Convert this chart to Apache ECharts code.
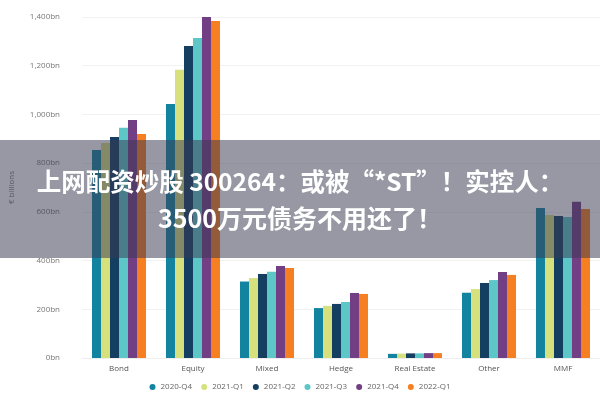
<!DOCTYPE html>
<html>
<head>
<meta charset="utf-8">
<script src="https://cdn.jsdelivr.net/npm/echarts@6/dist/echarts.min.js"></script>
<style>
html,body{margin:0;padding:0;background:#fff;}
#main{width:600px;height:400px;}
</style>
</head>
<body>
<div id="main"></div>
<script>
var categories = ['Bond', 'Equity', 'Mixed', 'Hedge', 'Real Estate', 'Other', 'MMF'];
var quarters = ['2020-Q4', '2021-Q1', '2021-Q2', '2021-Q3', '2021-Q4', '2022-Q1'];
var q2020q4 = [854, 1043, 314, 205, 17, 268, 616];
var q2021q1 = [883, 1183, 328, 214, 18, 283, 587];
var q2021q2 = [907, 1281, 345, 222, 19, 308, 583];
var q2021q3 = [945, 1314, 354, 230, 19, 320, 579];
var q2021q4 = [977, 1429, 378, 267, 20, 353, 641];
var q2022q1 = [920, 1384, 370, 263, 20, 341, 612];
var yTicks = [0, 200, 400, 600, 800, 1000, 1200, 1400];
var titleLines = ['上网配资炒股 300264：或被“*ST”！实控人：', '3500万元债务不用还了！'];

var colors = ['#13849f', '#d6e17e', '#143f60', '#5cc7c6', '#723e84', '#f67f22'];
var seriesData = [q2020q4, q2021q1, q2021q2, q2021q3, q2021q4, q2022q1];

var myChart = echarts.init(document.getElementById('main'));
var series = [];
for (var i = 0; i < quarters.length; i++) {
    series.push({
        name: quarters[i],
        type: 'bar',
        data: seriesData[i],
        barGap: '0%',
        barCategoryGap: '27%',
        itemStyle: { color: colors[i] }
    });
}
var option = {
    animation: false,
    color: colors,
    grid: { left: 77, right: -1, top: 17, bottom: 42 },
    legend: {
        data: quarters,
        bottom: 4,
        left: 'center',
        icon: 'circle',
        itemWidth: 6,
        itemHeight: 6,
        itemGap: 9,
        textStyle: { fontSize: 8, color: '#666', fontFamily: 'Open Sans' }
    },
    xAxis: {
        type: 'category',
        data: categories,
        axisLine: { show: true, lineStyle: { color: '#eeeeee' } },
        axisTick: { show: false },
        axisLabel: { fontSize: 8, color: '#555', margin: 7, fontFamily: 'Open Sans' }
    },
    yAxis: {
        type: 'value',
        min: 0,
        max: yTicks[yTicks.length - 1],
        interval: 200,
        name: '€ billions',
        nameLocation: 'middle',
        nameRotate: 90,
        nameGap: 66,
        nameTextStyle: { fontSize: 8, color: '#777', fontFamily: 'Open Sans' },
        splitLine: { lineStyle: { color: '#f2f2f2' } },
        axisLabel: {
            fontSize: 8,
            color: '#777',
            margin: 22,
            fontFamily: 'Open Sans',
            formatter: function (v) { return v.toLocaleString('en-US') + 'bn'; }
        }
    },
    series: series,
    graphic: [
        {
            type: 'rect',
            left: 0,
            top: 140,
            shape: { width: 600, height: 118 },
            style: { fill: 'rgba(58,58,82,0.52)' },
            z: 100
        },
        {
            type: 'text',
            left: 'center',
            top: 169,
            style: {
                text: titleLines[0],
                fill: '#fff',
                font: 'bold 24.5px "Noto Sans CJK SC"'
            },
            z: 101
        },
        {
            type: 'text',
            left: 'center',
            top: 206,
            style: {
                text: titleLines[1],
                fill: '#fff',
                font: 'bold 25px "Noto Sans CJK SC"'
            },
            z: 101
        }
    ]
};
myChart.setOption(option);
</script>
</body>
</html>
